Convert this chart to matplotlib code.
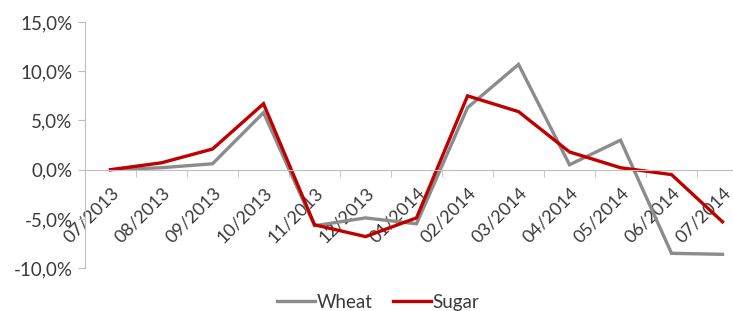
import matplotlib
matplotlib.use('Agg')
import matplotlib.pyplot as plt
from matplotlib.ticker import FuncFormatter, FixedLocator

months = ['07/2013', '08/2013', '09/2013', '10/2013', '11/2013', '12/2013', '01/2014',
          '02/2014', '03/2014', '04/2014', '05/2014', '06/2014', '07/2014']
wheat = [0.0, 0.2, 0.6, 5.8, -5.7, -4.9, -5.5, 6.3, 10.7, 0.5, 3.0, -8.5, -8.6]
sugar = [0.0, 0.7, 2.1, 6.7, -5.6, -6.8, -4.9, 7.5, 5.9, 1.8, 0.2, -0.5, -5.3]
y_ticks = [-10, -5, 0, 5, 10, 15]

plt.rcParams['font.family'] = ['Lato', 'DejaVu Sans']

fig = plt.figure(figsize=(7.33, 3.11), dpi=100)
# the right edge of the plot runs past the picture, like in the source
ax = fig.add_axes([0.116, 0.138, 0.9045, 0.791])

x = list(range(len(months)))
ax.plot(x, wheat, color='#8c8c8c', linewidth=2.4, label='Wheat', solid_joinstyle='miter')
ax.plot(x, sugar, color='#c00000', linewidth=2.4, label='Sugar', solid_joinstyle='miter')

ax.set_xlim(-0.5, len(months) - 0.5)
ax.set_ylim(-10, 15)

axis_col = '#bfbfbf'
text_col = '#3a3a3a'
fs = 13.5

for s in ['top', 'right']:
    ax.spines[s].set_visible(False)
ax.spines['left'].set_color(axis_col)
ax.spines['bottom'].set_color(axis_col)
ax.spines['bottom'].set_position(('data', 0))

ax.set_yticks(y_ticks)
ax.yaxis.set_major_formatter(FuncFormatter(lambda v, p: f'{v:.1f}%'.replace('.', ',')))
ax.tick_params(axis='y', colors=axis_col, labelcolor=text_col, labelsize=fs,
               length=5, direction='out', pad=4)

ax.set_xticks(x)
ax.set_xticklabels(months, rotation=45, ha='right', va='top', rotation_mode='anchor')
ax.xaxis.set_minor_locator(FixedLocator([i + 0.5 for i in x[:-1]]))
ax.tick_params(axis='x', which='major', length=0, labelcolor=text_col, labelsize=13, pad=11)
ax.tick_params(axis='x', which='minor', length=5, color=axis_col, direction='out')

fig.legend(loc='center', bbox_to_anchor=(0.516, 0.028), ncol=2, frameon=False,
           fontsize=fs, handlelength=2.0, handletextpad=0.1, columnspacing=1.1,
           labelcolor=text_col)

fig.savefig('out.png', dpi=100)
